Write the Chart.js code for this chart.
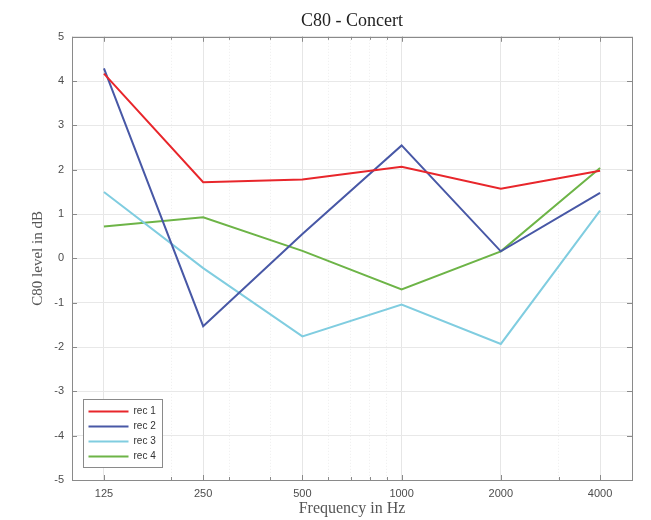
<!DOCTYPE html>
<html>
<head>
<meta charset="utf-8">
<script src="https://cdn.jsdelivr.net/npm/chart.js@4.4.1/dist/chart.umd.min.js"></script>
<style>
  html, body { margin: 0; padding: 0; background: #fff; }
  #wrap { width: 651px; height: 520px; }
</style>
</head>
<body>
<div id="wrap"><canvas id="c80Chart" width="651" height="520"></canvas></div>
<script>
// octave band centre frequencies (Hz)
var freqs = [125, 250, 500, 1000, 2000, 4000];
// log-axis minor grid positions
var minorFreqs = [100, 200, 300, 400, 500, 600, 700, 800, 900, 1000, 2000, 3000, 4000, 5000];
var yTicks = [-5, -4, -3, -2, -1, 0, 1, 2, 3, 4, 5];

// C80 per recording position, dB
var rec1 = [4.17, 1.72, 1.78, 2.07, 1.57, 1.98];
var rec2 = [4.29, -1.53, 0.55, 2.55, 0.16, 1.48];
var rec3 = [1.50, -0.22, -1.76, -1.04, -1.93, 1.08];
var rec4 = [0.72, 0.93, 0.17, -0.70, 0.16, 2.04];

var seriesNames = ['rec 1', 'rec 2', 'rec 3', 'rec 4'];
var seriesColors = ['#e8262b', '#4858a6', '#80cde0', '#6db447'];

function points(vals) {
    return vals.map(function (v, i) { return { x: freqs[i], y: v }; });
}

var allSeries = [rec1, rec2, rec3, rec4];
var datasets = allSeries.map(function (vals, i) {
    return {
        label: seriesNames[i],
        data: points(vals),
        borderColor: seriesColors[i],
        backgroundColor: seriesColors[i],
        borderWidth: 2,
        pointRadius: 0,
        fill: false,
        tension: 0
    };
});

var axisColor = '#8a8a8a';

// axes box and inward tick marks, matlab style
var boxPlugin = {
    id: 'boxPlugin',
    afterDatasetsDraw: function (chart) {
        var ctx = chart.ctx;
        var a = chart.chartArea;
        var xs = chart.scales.x, ys = chart.scales.y;
        ctx.save();
        ctx.strokeStyle = axisColor;
        ctx.lineWidth = 1;
        ctx.beginPath();
        freqs.forEach(function (f) {
            var px = Math.round(xs.getPixelForValue(f)) + 0.5;
            ctx.moveTo(px, a.bottom); ctx.lineTo(px, a.bottom - 5);
            ctx.moveTo(px, a.top); ctx.lineTo(px, a.top + 5);
        });
        minorFreqs.forEach(function (f) {
            var px = Math.round(xs.getPixelForValue(f)) + 0.5;
            ctx.moveTo(px, a.bottom); ctx.lineTo(px, a.bottom - 3);
            ctx.moveTo(px, a.top); ctx.lineTo(px, a.top + 3);
        });
        yTicks.forEach(function (v) {
            var py = Math.round(ys.getPixelForValue(v)) + 0.5;
            ctx.moveTo(a.left, py); ctx.lineTo(a.left + 5, py);
            ctx.moveTo(a.right, py); ctx.lineTo(a.right - 5, py);
        });
        ctx.stroke();
        ctx.strokeRect(Math.round(a.left) + 0.5, Math.round(a.top) + 0.5,
            Math.round(a.right - a.left), Math.round(a.bottom - a.top));
        ctx.restore();
    },
    afterDraw: function (chart) {
        // legend box in the lower left corner of the plot
        var ctx = chart.ctx;
        var a = chart.chartArea;
        var ds = chart.data.datasets;
        var bx = Math.round(a.left) + 11.5, bw = 79, rowH = 15;
        var bh = ds.length * rowH + 8;
        var by = Math.round(a.bottom) - 13 - bh + 0.5;
        ctx.save();
        ctx.fillStyle = '#fff';
        ctx.fillRect(bx, by, bw, bh);
        ctx.strokeStyle = '#8a8a8a';
        ctx.lineWidth = 1;
        ctx.strokeRect(bx, by, bw, bh);
        ctx.font = '10px "Liberation Sans", Arial, sans-serif';
        ctx.textBaseline = 'middle';
        ds.forEach(function (d, i) {
            var cy = by + 12 + i * rowH;
            ctx.strokeStyle = d.borderColor;
            ctx.lineWidth = 2;
            ctx.beginPath();
            ctx.moveTo(bx + 5, cy);
            ctx.lineTo(bx + 45, cy);
            ctx.stroke();
            ctx.fillStyle = '#333';
            ctx.fillText(d.label, bx + 50, cy);
        });
        ctx.restore();
    }
};

var ctx = document.getElementById('c80Chart').getContext('2d');
var chart = new Chart(ctx, {
    type: 'line',
    data: { datasets: datasets },
    options: {
        responsive: false,
        animation: false,
        layout: { padding: { left: 0, right: 19, top: 0, bottom: 0 } },
        plugins: {
            legend: { display: false },
            tooltip: { enabled: false },
            title: {
                display: true,
                text: 'C80 - Concert',
                fullSize: false,
                color: '#222',
                font: { family: '"Liberation Serif", "Times New Roman", serif', size: 18, weight: 'normal', lineHeight: 1.1 },
                padding: { top: 11, bottom: 6 }
            }
        },
        scales: {
            x: {
                type: 'logarithmic',
                min: 100,
                max: 5000,
                afterBuildTicks: function (scale) {
                    var vals = minorFreqs.concat(freqs.filter(function (f) { return minorFreqs.indexOf(f) < 0; }));
                    vals.sort(function (p, q) { return p - q; });
                    scale.ticks = vals.map(function (v) {
                        return { value: v, major: freqs.indexOf(v) >= 0 };
                    });
                },
                afterFit: function (scale) { scale.height = 40; },
                ticks: {
                    autoSkip: false,
                    maxRotation: 0,
                    padding: 7,
                    color: '#4d4d4d',
                    font: { family: '"Liberation Sans", Arial, sans-serif', size: 11 },
                    callback: function (value) {
                        return freqs.indexOf(value) >= 0 ? String(value) : '';
                    }
                },
                grid: {
                    drawTicks: false,
                    color: function (c) {
                        return freqs.indexOf(c.tick.value) >= 0 ? '#e6e6e6' : '#eeeeee';
                    },
                    lineWidth: 1
                },
                border: {
                    display: false,
                    dash: function (c) {
                        return c.tick && freqs.indexOf(c.tick.value) >= 0 ? [] : [1, 2];
                    }
                },
                title: {
                    display: true,
                    text: 'Frequency in Hz',
                    color: '#555',
                    font: { family: '"Liberation Serif", "Times New Roman", serif', size: 16 },
                    padding: { top: 0, bottom: 2 }
                }
            },
            y: {
                min: -5,
                max: 5,
                afterFit: function (scale) { scale.width = 72; },
                ticks: {
                    stepSize: 1,
                    padding: 8,
                    color: '#4d4d4d',
                    font: { family: '"Liberation Sans", Arial, sans-serif', size: 11 }
                },
                grid: {
                    drawTicks: false,
                    color: '#e8e8e8'
                },
                border: { display: false },
                title: {
                    display: true,
                    text: 'C80 level in dB',
                    color: '#555',
                    font: { family: '"Liberation Serif", "Times New Roman", serif', size: 15 },
                    padding: { top: 29, bottom: 0 }
                }
            }
        }
    },
    plugins: [boxPlugin]
});
</script>
</body>
</html>
